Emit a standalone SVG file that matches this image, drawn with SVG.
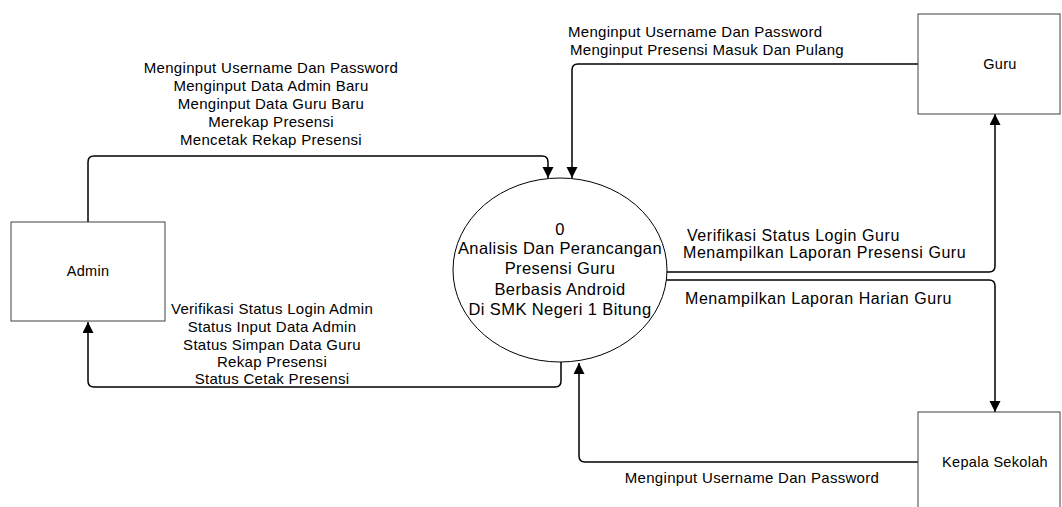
<svg xmlns="http://www.w3.org/2000/svg" width="1062" height="507" viewBox="0 0 1062 507">
<style>
text{font-family:"Liberation Sans",Arial,sans-serif;fill:#000}
.lbl{font-size:15px;letter-spacing:0.3px}
.big{font-size:16.5px;letter-spacing:0.4px}
.rt{font-size:16px;letter-spacing:0.55px}
.box{font-size:14.5px;letter-spacing:0.3px;text-anchor:middle}
.ent{fill:#fff;stroke:#404040;stroke-width:1}
.flow{fill:none;stroke:#000;stroke-width:1.5;marker-end:url(#arr)}
.mid{text-anchor:middle}
</style>
<defs>
<marker id="arr" markerUnits="userSpaceOnUse" markerWidth="12" markerHeight="12" refX="11" refY="5.5" orient="auto">
<path d="M0,0 L11,5.5 L0,11 z" fill="#000"/>
</marker>
</defs>
<g id="connectors">
<path class="flow" d="M88,222 V162 Q88,156 94,156 H542 Q548,156 548,162 V178"/>
<path class="flow" d="M561,362 V381 Q561,387 555,387 H94 Q88,387 88,381 V322"/>
<path class="flow" d="M918,64 H578 Q572,64 572,70 V178"/>
<path class="flow" d="M666,272 H989 Q995,272 995,266 V114"/>
<path class="flow" d="M666,280 H989 Q995,280 995,286 V412"/>
<path class="flow" d="M918,462 H585 Q579,462 579,456 V363"/>
</g>
<g id="connector-labels">
<g class="lbl mid">
<text x="271" y="73">Menginput Username Dan Password</text>
<text x="271" y="91">Menginput Data Admin Baru</text>
<text x="271" y="109">Menginput Data Guru Baru</text>
<text x="271" y="127">Merekap Presensi</text>
<text x="271" y="145">Mencetak Rekap Presensi</text>
</g>
<g class="lbl mid">
<text x="272" y="314">Verifikasi Status Login Admin</text>
<text x="272" y="332">Status Input Data Admin</text>
<text x="272" y="350">Status Simpan Data Guru</text>
<text x="272" y="367">Rekap Presensi</text>
<text x="272" y="384">Status Cetak Presensi</text>
</g>
<g class="lbl">
<text x="568" y="37">Menginput Username Dan Password</text>
<text x="570" y="55">Menginput Presensi Masuk Dan Pulang</text>
</g>
<g class="rt">
<text x="687" y="241">Verifikasi Status Login Guru</text>
<text x="683" y="258">Menampilkan Laporan Presensi Guru</text>
<text x="685" y="304">Menampilkan Laporan Harian Guru</text>
</g>
<text class="lbl mid" x="752" y="483">Menginput Username Dan Password</text>
</g>
<g id="process">
<ellipse cx="560" cy="270" rx="107" ry="92" fill="#fff" stroke="#000" stroke-width="1"/>
<g class="big mid">
<text x="560" y="235">0</text>
<text x="560" y="254">Analisis Dan Perancangan</text>
<text x="560" y="274">Presensi Guru</text>
<text x="560" y="295">Berbasis Android</text>
<text x="560" y="315">Di SMK Negeri 1 Bitung</text>
</g>
</g>
<g id="admin">
<rect class="ent" x="11" y="222" width="154" height="99"/>
<text class="box" x="88" y="276">Admin</text>
</g>
<g id="guru">
<rect class="ent" x="918" y="14" width="142" height="100"/>
<text class="box" x="1000" y="69">Guru</text>
</g>
<g id="kepala-sekolah">
<rect class="ent" x="918" y="412" width="142" height="100"/>
<text class="box" x="995" y="467">Kepala Sekolah</text>
</g>
</svg>
